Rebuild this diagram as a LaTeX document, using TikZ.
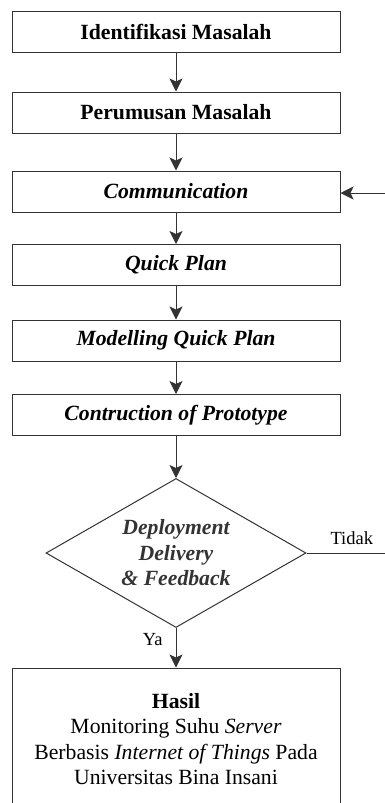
\documentclass[tikz,border=0pt]{standalone}
\usepackage{fontspec}
\setmainfont{Liberation Serif}
\usetikzlibrary{shapes.geometric,arrows.meta}
\begin{document}
\begin{tikzpicture}[x=1pt,y=-1pt,
  stepbox/.style={draw=black!80, line width=1pt, minimum width=328pt, minimum height=41pt, inner sep=0pt, font=\fontsize{21.7}{26}\selectfont\bfseries},
  decbox/.style={draw=black!80, line width=1pt, diamond, aspect=1.745, minimum width=260pt, minimum height=149pt, inner sep=0pt, align=center, text=black!80, font=\fontsize{21.7}{25.5}\selectfont\bfseries\itshape},
  resbox/.style={draw=black!80, line width=1pt, minimum width=328pt, minimum height=142pt, inner sep=0pt, align=center, font=\fontsize{21.7}{25.5}\selectfont},
  arr/.style={draw=black!80, line width=1pt, arrows={-Stealth[length=13pt,width=13pt,inset=3pt]}},
  ln/.style={draw=black!80, line width=1pt},
  lbl/.style={inner sep=0pt, font=\fontsize{18.5}{22}\selectfont}
]
\useasboundingbox (0,0) rectangle (385,803);
\node[stepbox] (b1) at (176,31.5) {Identifikasi Masalah};
\node[stepbox] (b2) at (176,112.5) {Perumusan Masalah};
\node[stepbox] (b3) at (176,191.5) {\itshape Communication};
\node[stepbox] (b4) at (176,265) {\itshape Quick Plan};
\node[stepbox] (b5) at (176,340.5) {\itshape Modelling Quick Plan};
\node[stepbox] (b6) at (176,415) {\itshape Contruction of Prototype};
\node[decbox] (dia) at (176,553) {Deployment\\Delivery\\\& Feedback};
\node[resbox] (res) at (176,739) {\textbf{Hasil}\\Monitoring Suhu \textit{Server}\\Berbasis \textit{Internet of Things} Pada\\Universitas Bina Insani};
\coordinate (tr) at (386,553);
\coordinate (cr) at (386,193);
\draw[arr] (b1) -- (b2);
\draw[arr] (b2) -- (b3);
\draw[arr] (b3) -- (b4);
\draw[arr] (b4) -- (b5);
\draw[arr] (b5) -- (b6);
\draw[arr] (b6) -- (dia);
\draw[arr] (dia) -- node[lbl, pos=0.3, left=13pt] {Ya} (res);
\draw[ln] (dia.east) -- node[lbl, pos=0.57, above=8pt] {Tidak} (tr);
\draw[arr] (cr) -- (cr -| b3.east);
\end{tikzpicture}
\end{document}
